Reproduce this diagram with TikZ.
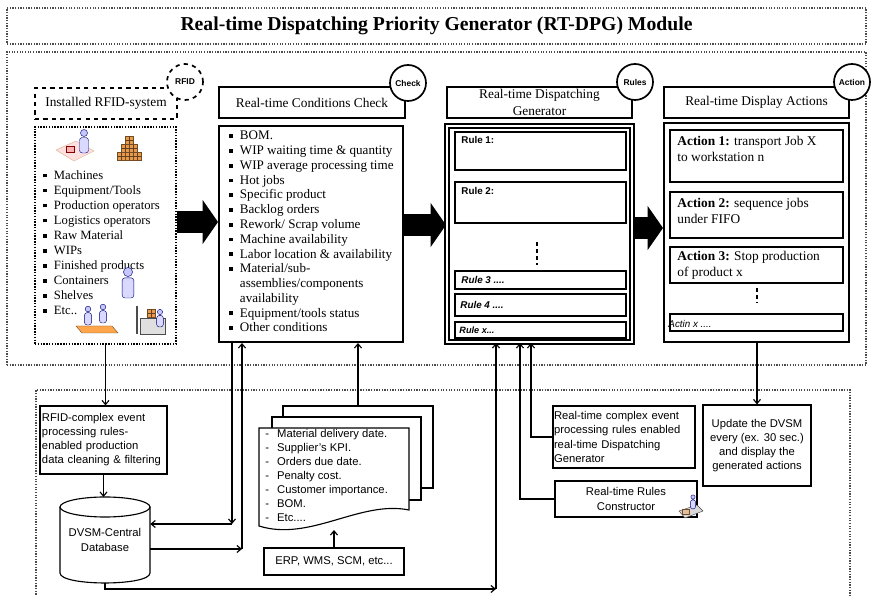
\documentclass[tikz,border=0pt]{standalone}
\usepackage{fontspec}
\setmainfont{Liberation Serif}
\setsansfont{Liberation Sans}
\usetikzlibrary{shapes,arrows,positioning,calc,arrows.meta}

% one unit of the picture
\newlength\pxl
\setlength\pxl{0.025cm}
\newcommand{\sqbullet}{\rule[0.3ex]{0.65ex}{0.65ex}}
\newcommand{\bitem}[1]{\makebox[7.6pt][l]{\sqbullet}#1}
\newcommand{\bcont}[1]{\hspace*{7.6pt}#1}
\newcommand{\ditem}[1]{\makebox[8.5pt][l]{-}#1}

\tikzset{
  boxsize/.style 2 args={minimum width=#1\pxl, minimum height=#2\pxl, inner sep=0pt},
  dotbox/.style={draw=black!70, densely dotted, line width=0.9pt},
  hdrbox/.style={draw, line width=1.4pt, fill=white, align=center, font=\fontsize{9.5}{11.5}\selectfont},
  listbox/.style={draw, line width=1.4pt},
  rulebox/.style={draw, line width=1.2pt},
  tagcirc/.style={circle, draw, line width=1.2pt, fill=white, minimum size=36\pxl, inner sep=0pt, font=\sffamily\bfseries\fontsize{6}{7}\selectfont},
  listtext/.style={anchor=north west, inner sep=0pt, align=left},
  rulelbl/.style={inner sep=0pt, font=\sffamily\bfseries\fontsize{7}{8}\selectfont},
  smallbox/.style={draw, line width=0.8pt, fill=white, font=\sffamily\fontsize{8}{10}\selectfont},
  conn/.style={-{Straight Barb[length=3pt,width=5pt]}, line width=0.8pt},
  bigarrow/.style={line width=15pt, -{Triangle[length=11pt,width=31pt]}},
  worker/.pic={
    \fill[blue!22, draw=blue!45!black, line width=0.3pt] (0,0) circle [radius=3.5];
    \fill[blue!15, draw=blue!45!black, line width=0.3pt, rounded corners=2] (-4.5,4.5) rectangle (4.5,20);
  },
  crate/.pic={
    \fill[orange!55!brown!80, draw=brown!60!black, line width=0.3pt] (0,0) rectangle (8,8);
    \draw[brown!50!black, line width=0.3pt] (0,4) -- (8,4) (4,0) -- (4,8);
  }
}

\begin{document}
\begin{tikzpicture}[x=1\pxl, y=-1\pxl]
  \fill[white] (0,0) rectangle (871,596);
  \useasboundingbox (0,0) rectangle (871,596);

  % module frame
  \node[dotbox, boxsize={859}{36}, font=\fontsize{14}{16}\selectfont\bfseries] (title) at (436.5,26)
    {Real-time Dispatching Priority Generator (RT-DPG) Module};
  \node[dotbox, boxsize={859}{313}] (module) at (436.5,208.5) {};
  \draw[dotbox] (36,600) -- (36,390) -- (850,390) -- (850,600);

  % RFID column
  \node[draw, dashed, line width=1.2pt, boxsize={142}{31}, font=\fontsize{9.5}{11.5}\selectfont] (rfid) at (106,103.5) {Installed RFID-system};
  \node[tagcirc, dashed] (rfidtag) at (185,82) {RFID};
  \node[draw, densely dotted, line width=1pt, boxsize={141}{217}] (items) at (105.5,235.5) {};
  \node[listtext, font=\fontsize{9}{10.7}\selectfont] (itemlist) at (43,170) {%
    \bitem{Machines}\\ \bitem{Equipment/Tools}\\ \bitem{Production operators}\\
    \bitem{Logistics  operators}\\ \bitem{Raw Material}\\ \bitem{WIPs}\\
    \bitem{Finished products}\\ \bitem{Containers}\\ \bitem{Shelves}\\ \bitem{Etc..}};

  % clip-art in the RFID list
  \fill[red!12, draw=brown!60, line width=0.3pt] (56,150) -- (76,141) -- (94,151) -- (74,161) -- cycle;
  \fill[red!30, draw=red!50!black, line width=0.3pt] (66,146) rectangle (74,152);
  \pic at (84,133) {worker};
  \foreach \cx/\cy in {117/152, 125/152, 133/152, 121/144, 129/144, 125/136}
    \pic at (\cx,\cy) {crate};
  \pic[scale=1.3] at (128,272) {worker};
  \fill[orange!70, draw=brown!60!black, line width=0.3pt] (76,326) -- (112,326) -- (118,333) -- (82,333) -- cycle;
  \pic[scale=0.8] at (88,309) {worker};
  \pic[scale=0.8] at (103,307) {worker};
  \fill[gray!25, draw=gray!60!black, line width=0.3pt] (140,318) rectangle (165,334);
  \pic at (147,309) {crate};
  \pic[scale=0.75] at (160,312) {worker};
  \draw[gray!60!black, line width=0.8pt] (137,306) -- (137,334);

  % conditions column
  \node[hdrbox, boxsize={186}{31}] (chkhdr) at (312,102.5) {Real-time Conditions Check};
  \node[tagcirc] (chktag) at (408,83) {Check};
  \node[listbox, boxsize={184}{216}] (chk) at (311,234) {};
  \node[listtext, font=\fontsize{9.3}{10.5}\selectfont] (chklist) at (229,131) {%
    \bitem{BOM.}\\ \bitem{WIP waiting time \& quantity}\\ \bitem{WIP average processing time}\\
    \bitem{Hot jobs}\\ \bitem{Specific product}\\ \bitem{Backlog orders}\\
    \bitem{Rework/  Scrap volume}\\ \bitem{Machine availability}\\
    \bitem{Labor location \& availability}\\ \bitem{Material/sub-}\\
    \bcont{assemblies/components}\\ \bcont{availability}\\
    \bitem{Equipment/tools status}\\ \bitem{Other conditions}};

  % dispatching rules column
  \node[hdrbox, boxsize={185}{31}] (rulehdr) at (539.5,102.5) {Real-time Dispatching\\Generator};
  \node[tagcirc] (ruletag) at (635,82) {Rules};
  \node[listbox, double, double distance=0.8pt, boxsize={185}{216}] (rules) at (539.5,234) {};
  \node[rulebox, boxsize={171}{38}] (r1) at (540.5,151) {};
  \node[rulebox, boxsize={171}{41}] (r2) at (540.5,202.5) {};
  \node[rulebox, boxsize={171}{18}] (r3) at (540.5,280) {};
  \node[rulebox, boxsize={171}{22}] (r4) at (540.5,305) {};
  \node[rulebox, boxsize={171}{16}] (rx) at (540.5,330) {};
  \node[rulelbl, anchor=north west] (r1t) at ($(r1.north west)+(7,5)$) {Rule 1:};
  \node[rulelbl, anchor=north west] (r2t) at ($(r2.north west)+(7,6)$) {Rule 2:};
  \node[rulelbl, anchor=west, font=\sffamily\bfseries\itshape\fontsize{7}{8}\selectfont] (r3t) at ($(r3.west)+(7,0)$) {Rule 3 ....};
  \node[rulelbl, anchor=west, font=\sffamily\bfseries\itshape\fontsize{7}{8}\selectfont] (r4t) at ($(r4.west)+(6,0)$) {Rule 4 ....};
  \node[rulelbl, anchor=west, font=\sffamily\bfseries\itshape\fontsize{6.5}{8}\selectfont] (rxt) at ($(rx.west)+(5,0)$) {Rule x...};
  \draw[densely dashed, line width=1.1pt] (537,242) -- (537,265);

  % actions column
  \node[hdrbox, boxsize={185}{31}] (acthdr) at (756.5,102.5) {Real-time Display Actions};
  \node[tagcirc] (acttag) at (852,82) {Action};
  \node[listbox, boxsize={185}{219}] (acts) at (756.5,232.5) {};
  \node[rulebox, boxsize={173}{52}] (a1) at (756.5,156) {};
  \node[rulebox, boxsize={173}{46}] (a2) at (756.5,215) {};
  \node[rulebox, boxsize={173}{36}] (a3) at (756.5,265) {};
  \node[rulebox, boxsize={173}{17}] (an) at (756.5,322.5) {};
  \node[listtext, font=\fontsize{9.5}{11.4}\selectfont] (a1t) at ($(a1.north west)+(8,7)$) {\textbf{Action 1:} transport Job X\\to workstation n};
  \node[listtext, font=\fontsize{9.5}{11.4}\selectfont] (a2t) at ($(a2.north west)+(8,7)$) {\textbf{Action 2:} sequence jobs\\under FIFO};
  \node[listtext, font=\fontsize{9.5}{11.4}\selectfont] (a3t) at ($(a3.north west)+(8,5)$) {\textbf{Action 3:} Stop production\\of product x};
  \node[inner sep=0pt, anchor=west, font=\sffamily\itshape\fontsize{7}{8}\selectfont] (ant) at ($(an.west)+(-1,1)$) {Actin x ....};
  \draw[densely dashed, line width=1.1pt] (757,288) -- (757,303);

  % flow between the columns
  \draw[bigarrow] (items.east |- 0,222) -- (chk.west |- 0,222);
  \draw[bigarrow] (chk.east |- 0,225) -- (rules.west |- 0,225);
  \draw[bigarrow] (rules.east |- 0,228) -- (acts.west |- 0,228);

  % data layer
  \node[smallbox, boxsize={127}{68}, align=left, text width=123\pxl] (cep) at (103.5,440)
    {RFID-complex  event\\processing rules-\\enabled  production\\data cleaning \& filtering};
  \draw[line width=0.8pt, fill=white] (60,507) -- (60,573) .. controls (60,586.3) and (150,586.3) .. (150,573) -- (150,507);
  \draw[line width=0.8pt] (105,507) ellipse [x radius=45, y radius=10];
  \node[boxsize={90}{86}, align=center, font=\sffamily\fontsize{8}{10.5}\selectfont] (db) at (105,540) {DVSM-Central\\Database};

  % stacked documents
  \draw[line width=0.8pt] (283,417) -- (283,406) -- (433,406) -- (433,488) -- (421,488);
  \draw[line width=0.8pt] (272,428) -- (272,417) -- (421,417) -- (421,500) -- (409,500);
  \draw[line width=0.8pt, fill=white] (259,428) -- (409,428) -- (409,510) .. controls (360,500) and (310,542) .. (259,526) -- cycle;
  \node[listtext, font=\sffamily\fontsize{8}{10}\selectfont] (docs) at (265,429) {%
    \ditem{Material  delivery date.}\\ \ditem{Supplier's KPI.}\\ \ditem{Orders due date.}\\
    \ditem{Penalty  cost.}\\ \ditem{Customer  importance.}\\ \ditem{BOM.}\\ \ditem{Etc....}};
  \coordinate (doctop) at (358,406);
  \coordinate (docbot) at (334,530);
  \node[smallbox, boxsize={140}{27}] (erp) at (334,561.5) {ERP,  WMS,  SCM,  etc...};

  \node[smallbox, boxsize={142}{62}, align=left, text width=140\pxl] (rtce) at (624,437)
    {Real-time  complex event\\processing  rules enabled\\real-time  Dispatching\\Generator};
  \node[smallbox, boxsize={142}{36}, align=center] (rcon) at (626,499) {Real-time  Rules\\Constructor};
  \node[smallbox, boxsize={108}{81}, align=center] (upd) at (757,445.5)
    {Update  the DVSM\\every (ex. 30 sec.)\\and display the\\generated actions};

  % operator at a terminal
  \fill[gray!30, draw=gray!50!black, line width=0.3pt] (679,511) -- (697,505) -- (703,511) -- (685,518) -- cycle;
  \fill[brown!50, draw=brown!60!black, line width=0.3pt] (682,509) rectangle (689,514);
  \pic[scale=0.6] at (693,497) {worker};

  % connectors
  \draw[conn] (items.south) -- (items.south |- cep.north);
  \draw[conn] (cep.south) -- (cep.south |- 0,497);
  \coordinate (c1) at (232,524);
  \coordinate (c2) at (242,549);
  \draw[conn] (chk.south -| c1) -- (c1);
  \draw[conn] (c1) -- (db.east |- c1);
  \draw[conn] (db.east |- c2) -- (c2);
  \draw[conn] (c2) -- (chk.south -| c2);
  \draw[conn] (doctop) -- (chk.south -| doctop);
  \draw[conn] (erp.north) -- (docbot);
  \coordinate (c3) at (496,589);
  \draw[conn] (db.south |- 0,583) -- (105,589) -- (c3);
  \draw[conn] (c3) -- (rules.south -| c3);
  \coordinate (c4) at (520,499);
  \draw[conn] (rcon.west) -- (c4) -- (rules.south -| c4);
  \coordinate (c5) at (531,437);
  \draw[conn] (rtce.west) -- (c5) -- (rules.south -| c5);
  \draw[conn] (acts.south -| upd.north) -- (upd.north);
\end{tikzpicture}
\end{document}
